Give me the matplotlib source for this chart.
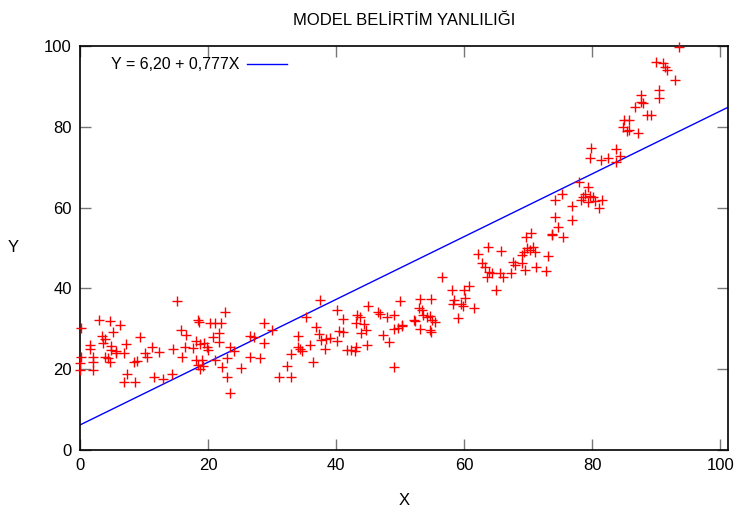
import numpy as np
import matplotlib.pyplot as plt

plt.rcParams['font.family'] = ['Liberation Sans', 'DejaVu Sans']

x_obs = [15.1, 0.2, 3.0, 4.7, 6.2, 5.1, 3.9, 3.6, 3.5, 1.5, 1.5, 0.2, 0.0, 0.0,
         2.1, 2.1, 2.1, 3.9, 4.4, 4.7, 4.8, 4.9, 5.6, 5.7, 6.8, 7.2, 7.3, 6.9,
         8.6, 8.5, 8.9, 9.4, 10.2, 10.4, 11.2, 12.3, 11.5, 13.0, 14.3, 14.6,
         15.9, 15.8, 16.6, 16.4, 17.7, 18.1, 18.4, 18.6, 18.75, 19.3, 19.8, 20.0,
         18.1, 18.5, 19.1, 19.2, 18.75, 20.3, 21.1, 22.0, 22.7, 21.7, 20.7, 21.7,
         21.1, 22.1, 22.9, 23.4, 24.1, 22.9, 23.4, 25.1,
         37.5, 28.75, 26.6, 27.2, 30.0, 28.75, 26.6, 28.1, 31.1, 33.0, 32.3,
         33.0, 34.1, 34.1, 34.4, 34.6, 35.9, 36.4, 35.3, 36.9, 37.4, 37.6, 38.4,
         38.3, 39.0, 40.2, 40.1, 41.1, 40.5, 41.0, 41.7, 42.3, 43.1, 43.0, 43.3,
         43.75, 43.1, 44.4, 43.9, 44.7, 44.95, 44.8, 46.6, 46.9, 47.9, 49.1,
         47.3, 48.3, 49.1, 49.6, 50.3, 49.9, 49.0,
         56.5, 53.1, 54.8, 53.0, 53.4, 53.6, 54.2, 54.6, 54.95, 55.5, 52.1, 52.3,
         53.1, 54.7, 54.8, 50.3, 58.1, 59.9, 60.7, 60.2, 58.4, 58.3, 59.5, 59.8,
         59.1, 61.6, 62.1, 63.7, 65.8, 62.8, 63.3, 63.8, 63.6, 64.3, 65.6, 66.0,
         65.0, 67.3, 67.7, 68.0, 69.0, 69.5, 69.0, 69.4, 69.8, 70.2, 70.7, 71.1,
         71.25, 72.8, 73.1, 69.6, 70.5, 73.7,
         79.8, 79.7, 81.4, 82.4, 83.75, 84.4, 83.75, 85.5, 78.0, 79.3, 75.2,
         74.2, 78.8, 78.5, 78.3, 79.6, 80.1, 79.3, 80.5, 81.5, 81.0, 76.8, 76.8,
         74.2, 74.7, 73.7, 75.5,
         93.5, 90.0, 91.0, 91.4, 91.7, 93.0, 90.4, 90.4, 87.6, 87.6, 86.7, 87.9,
         88.5, 89.1, 84.9, 85.7, 84.8, 85.7, 87.1]
y_obs = [36.9, 30.3, 32.3, 32.0, 30.9, 29.1, 27.5, 26.6, 28.1, 26.0, 25.0, 23.1, 21.5, 19.8,
         23.0, 21.9, 19.8, 23.1, 22.7, 21.9, 25.8, 24.8, 24.6, 24.1, 24.1, 26.2, 18.8, 16.9,
         16.9, 21.9, 22.0, 28.0, 24.1, 22.9, 25.6, 24.3, 18.1, 17.5, 18.7, 24.9,
         23.1, 29.7, 28.5, 25.6, 25.2, 27.0, 32.3, 31.8, 26.2, 26.6, 25.6, 24.8,
         22.3, 21.0, 22.4, 20.8, 20.0, 31.5, 31.5, 31.5, 34.2, 28.9, 27.9, 26.8,
         22.3, 20.5, 22.7, 25.6, 24.5, 18.0, 14.0, 20.2,
         37.1, 31.4, 28.2, 28.0, 29.7, 26.6, 23.1, 22.7, 18.0, 18.0, 20.8,
         23.8, 28.2, 25.6, 24.9, 24.6, 26.0, 21.9, 32.8, 30.5, 28.7, 27.2, 27.4,
         24.9, 27.6, 27.1, 34.7, 32.4, 29.5, 29.3, 24.8, 24.8, 25.6, 24.6, 33.4,
         33.0, 31.5, 31.1, 28.9, 29.7, 35.7, 26.0, 34.1, 33.6, 33.0, 33.4,
         28.5, 26.8, 29.9, 30.1, 30.9, 37.0, 20.5,
         42.7, 37.4, 37.5, 35.1, 34.7, 33.4, 33.0, 33.2, 32.3, 31.8, 32.2, 32.0,
         29.9, 29.7, 29.3, 30.6, 39.6, 39.6, 40.6, 37.7, 37.1, 36.1, 36.1, 35.6,
         32.6, 35.1, 48.5, 50.2, 49.3, 46.2, 45.2, 44.1, 42.9, 43.7, 43.7, 42.9,
         39.6, 43.9, 46.6, 45.8, 46.2, 44.6, 48.3, 49.1, 49.9, 49.5, 50.2, 49.1,
         45.4, 44.3, 48.1, 52.6, 53.6, 53.5,
         74.7, 72.4, 71.8, 72.4, 74.5, 72.8, 71.4, 79.0, 66.4, 65.0, 63.3,
         62.0, 63.3, 62.7, 61.9, 62.9, 62.7, 61.5, 61.6, 61.9, 60.0, 60.3, 56.9,
         57.6, 55.3, 53.2, 52.6,
         99.7, 96.1, 95.9, 94.9, 94.1, 91.6, 89.1, 87.2, 87.9, 86.2, 85.0, 86.0,
         82.9, 82.9, 81.8, 81.7, 79.9, 79.2, 78.5]

intercept = 6.20
slope = 0.777
x_fit = np.array([0, 101.2])
y_fit = intercept + slope * x_fit

fig = plt.figure(figsize=(7.4, 5.08), dpi=100)
ax = fig.add_axes([80/740, 58/508, 648/740, 404/508])

ax.plot(x_obs, y_obs, '+', color='red', markersize=7.5, mew=1.0, clip_on=False, zorder=3)
ax.plot(x_fit, y_fit, '-', color='blue', lw=1, label='Y = 6,20 + 0,777X')

ax.set_xlim(0, 101.2)
ax.set_ylim(0, 100)
ax.set_xticks(np.arange(0, 101, 20))
ax.set_yticks(np.arange(0, 101, 20))
ax.tick_params(direction='in', length=8, width=1, color='#777777',
               top=True, right=True, labelsize=12, pad=6)
for s in ax.spines.values():
    s.set_linewidth(1.2)

ax.set_xlabel('X', fontsize=12, labelpad=14)
ax.set_ylabel('Y', fontsize=12, rotation=0, labelpad=22, va='center')
ax.set_title('MODEL BELİRTİM YANLILIĞI', fontsize=12, pad=15)

ax.legend(loc='upper left', frameon=False, markerfirst=False, fontsize=11.5,
          handlelength=2.5, handletextpad=0.5, borderaxespad=0.3,
          bbox_to_anchor=(0.03, 1.0))

fig.savefig('out.png', dpi=100)
